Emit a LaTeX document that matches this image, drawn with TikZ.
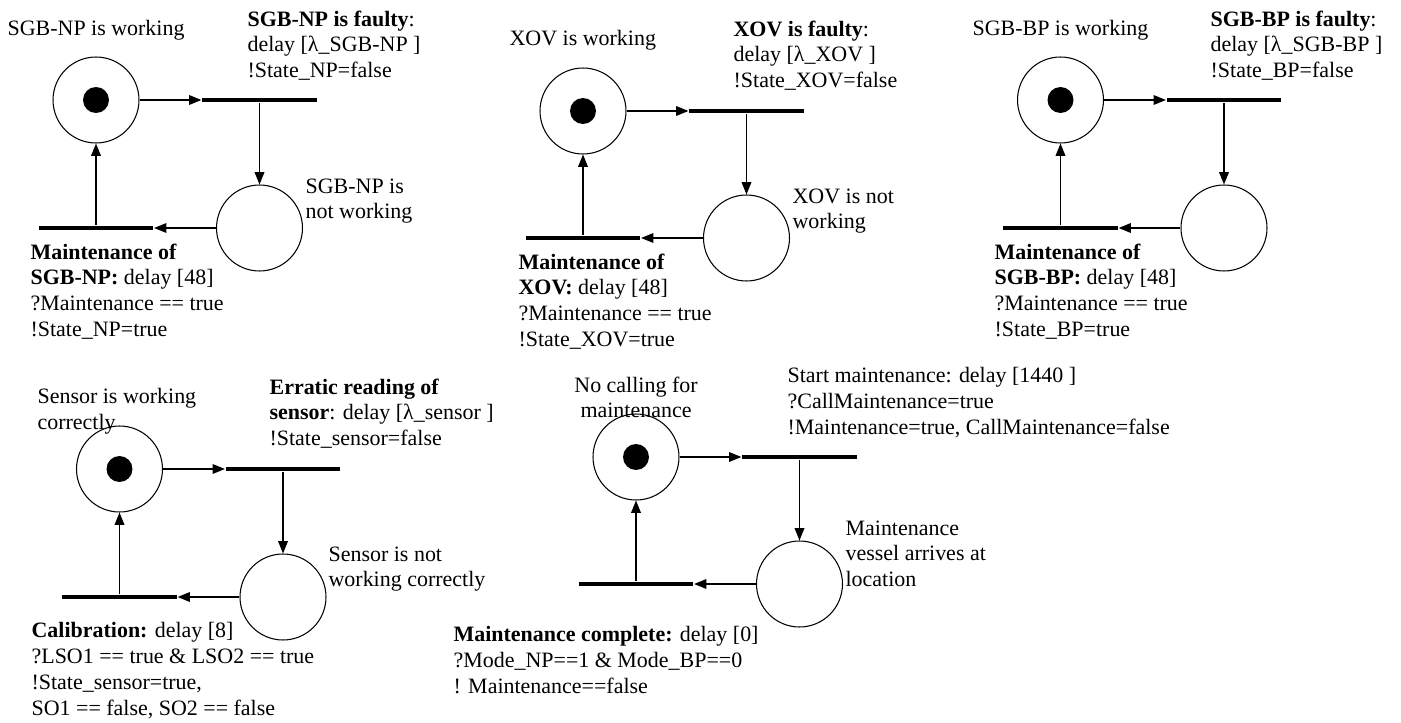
\documentclass[tikz,border=0pt]{standalone}
\usepackage{fontspec}
\setmainfont{Liberation Serif}
\usetikzlibrary{arrows.meta, positioning}

\begin{document}
\begin{tikzpicture}[
    x=0.02cm, y=-0.02cm,
    ->,
    >={Triangle[length=7pt, width=5.5pt]},
    line width=0.7pt,
    place/.style={circle, draw, line width=0.6pt, minimum size=1.72cm, inner sep=0},
    token/.style={circle, fill=black, minimum size=0.52cm, inner sep=0},
    trans/.style={rectangle, fill=black, minimum width=2.3cm, minimum height=0.09cm, inner sep=0},
    lbl/.style={font=\fontsize{12.5}{14.7}\selectfont, align=left, inner sep=0, anchor=north west},
  ]
  \useasboundingbox (0,0) rectangle (1401,723);

  % SGB-NP
  \node[place] (w1) at (96,100) {};
  \node[token] (t1) at (w1) {};
  \node[trans] (f1) at (259.5,100) {};
  \node[place] (n1) at (259.5,228) {};
  \node[trans] (m1) at (96,228) {};
  \draw (w1) -- (f1);
  \draw (f1) -- (n1);
  \draw (n1) -- (m1);
  \draw (m1) -- (w1);
  \node[lbl] (lw1) at (7,20) {SGB-NP is working};
  \node[lbl] (lf1) at (247,10) {\textbf{SGB-NP is faulty}:\\delay [λ\_SGB-NP ]\\!State\_NP=false};
  \node[lbl] (ln1) at (305,178) {SGB-NP is\\not working};
  \node[lbl] (lm1) at (30,243) {\textbf{Maintenance of}\\\textbf{SGB-NP:} delay [48]\\?Maintenance == true\\!State\_NP=true};

  % XOV
  \node[place] (w2) at (583,111) {};
  \node[token] (t2) at (w2) {};
  \node[trans] (f2) at (746.5,111) {};
  \node[place] (n2) at (746.5,238) {};
  \node[trans] (m2) at (583,238) {};
  \draw (w2) -- (f2);
  \draw (f2) -- (n2);
  \draw (n2) -- (m2);
  \draw (m2) -- (w2);
  \node[lbl] (lw2) at (509,30) {XOV is working};
  \node[lbl] (lf2) at (733,20) {\textbf{XOV is faulty}:\\delay [λ\_XOV ]\\!State\_XOV=false};
  \node[lbl] (ln2) at (792,188) {XOV is not\\working};
  \node[lbl] (lm2) at (518,253) {\textbf{Maintenance of}\\\textbf{XOV:} delay [48]\\?Maintenance == true\\!State\_XOV=true};

  % SGB-BP
  \node[place] (w3) at (1060.5,100) {};
  \node[token] (t3) at (w3) {};
  \node[trans] (f3) at (1224,100) {};
  \node[place] (n3) at (1224,228) {};
  \node[trans] (m3) at (1060.5,228) {};
  \draw (w3) -- (f3);
  \draw (f3) -- (n3);
  \draw (n3) -- (m3);
  \draw (m3) -- (w3);
  \node[lbl] (lw3) at (972,20) {SGB-BP is working};
  \node[lbl] (lf3) at (1210,10) {\textbf{SGB-BP is faulty}:\\delay [λ\_SGB-BP ]\\!State\_BP=false};
  \node[lbl] (lm3) at (994,243) {\textbf{Maintenance of}\\\textbf{SGB-BP:} delay [48]\\?Maintenance == true\\!State\_BP=true};

  % sensor
  \node[place] (w4) at (119.5,469) {};
  \node[token] (t4) at (w4) {};
  \node[trans] (f4) at (283,469) {};
  \node[place] (n4) at (283,597) {};
  \node[trans] (m4) at (119.5,597) {};
  \draw (w4) -- (f4);
  \draw (f4) -- (n4);
  \draw (n4) -- (m4);
  \draw (m4) -- (w4);
  \node[lbl] (lw4) at (37,388) {Sensor is working\\correctly};
  \node[lbl] (lf4) at (269,378) {\textbf{Erratic reading of}\\\textbf{sensor}: delay [λ\_sensor ]\\!State\_sensor=false};
  \node[lbl] (ln4) at (328,546) {Sensor is not\\working correctly};
  \node[lbl] (lm4) at (31,622) {\textbf{Calibration:} delay [8]\\?LSO1 == true \& LSO2 == true\\!State\_sensor=true,\\SO1 == false, SO2 == false};

  % maintenance call
  \node[place] (w5) at (636,457) {};
  \node[token] (t5) at (w5) {};
  \node[trans] (f5) at (799.5,457) {};
  \node[place] (n5) at (799.5,584) {};
  \node[trans] (m5) at (636,584) {};
  \draw (w5) -- (f5);
  \draw (f5) -- (n5);
  \draw (n5) -- (m5);
  \draw (m5) -- (w5);
  \node[lbl, align=center, anchor=north] (lw5) at (636,376) {No calling for\\maintenance};
  \node[lbl] (lf5) at (787,367) {Start maintenance: delay [1440 ]\\?CallMaintenance=true\\!Maintenance=true, CallMaintenance=false};
  \node[lbl] (ln5) at (845,520) {Maintenance\\vessel arrives at\\location};
  \node[lbl] (lm5) at (453,626) {\textbf{Maintenance complete:} delay [0]\\?Mode\_NP==1 \& Mode\_BP==0\\! Maintenance==false};
\end{tikzpicture}
\end{document}
